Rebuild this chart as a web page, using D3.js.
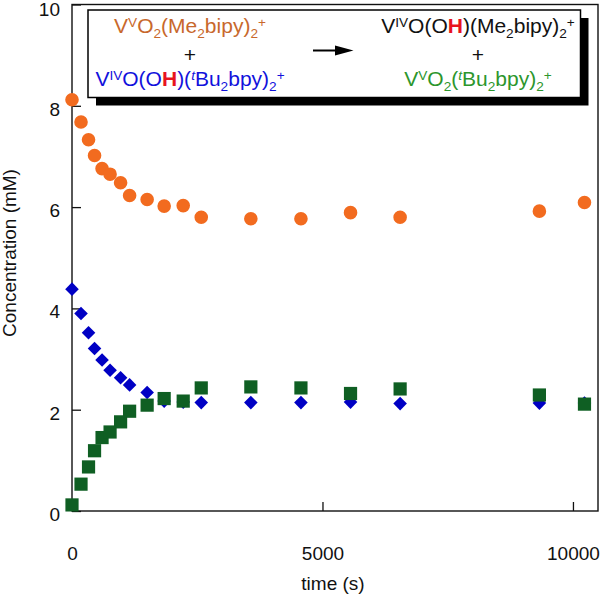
<!DOCTYPE html>
<html>
<head>
<meta charset="utf-8">
<script src="https://cdn.jsdelivr.net/npm/d3@7"></script>
<style>
  html, body { margin: 0; padding: 0; background: #fff; }
  svg { display: block; font-family: "Liberation Sans", Arial, Helvetica, sans-serif; }
</style>
</head>
<body>
<svg id="chart" width="600" height="597"></svg>
<script>
// ---- data ----
const times = [0, 180, 330, 450, 600, 760, 970, 1150, 1500, 1840, 2220, 2580, 3570, 4570, 5560, 6550, 9330, 10230];
const orangeConc = [8.12, 7.68, 7.33, 7.02, 6.76, 6.65, 6.48, 6.23, 6.15, 6.02, 6.03, 5.80, 5.77, 5.77, 5.89, 5.80, 5.92, 6.09];
const blueConc = [4.38, 3.90, 3.52, 3.21, 2.98, 2.78, 2.63, 2.49, 2.34, 2.17, 2.15, 2.14, 2.14, 2.14, 2.15, 2.12, 2.13, 2.13];
const greenConc = [0.12, 0.53, 0.87, 1.19, 1.45, 1.56, 1.76, 1.97, 2.09, 2.22, 2.17, 2.43, 2.45, 2.43, 2.32, 2.41, 2.29, 2.11];
const xTicks = [0, 5000, 10000];
const yTicks = [0, 2, 4, 6, 8, 10];
const xTitle = "time (s)";
const yTitle = "Concentration (mM)";

// ---- layout ----
const L = 72, R = 598, T = 4.5, B = 511;
const svg = d3.select("#chart");
const x = d3.scaleLinear().domain([0, 10500]).range([L, R]);
const y = d3.scaleLinear().domain([0, 10]).range([B, T]);

const FS = 19;

// axes
const xAxis = svg.append("g").attr("transform", `translate(0,${B})`)
  .call(d3.axisBottom(x).tickValues(xTicks).tickFormat(d3.format("d"))
    .tickSizeInner(-9).tickSizeOuter(0).tickPadding(35.5));
const yAxis = svg.append("g").attr("transform", `translate(${L},0)`)
  .call(d3.axisLeft(y).tickValues(yTicks).tickFormat(d3.format("d"))
    .tickSizeInner(-9).tickSizeOuter(0).tickPadding(12));
[xAxis, yAxis].forEach(a => {
  a.select(".domain").remove();
  a.selectAll("line").attr("stroke", "#111").attr("stroke-width", 1.3);
  a.selectAll("text").attr("font-size", FS).attr("fill", "#111")
    .attr("font-family", "Liberation Sans, Arial, sans-serif");
});
yAxis.selectAll("text").attr("dy", d => d === 10 ? "0.58em" : "0.5em");

// frame
svg.append("rect").attr("x", L).attr("y", T).attr("width", R - L).attr("height", B - T)
  .attr("fill", "none").attr("stroke", "#111").attr("stroke-width", 1.4);

// axis titles
svg.append("text").attr("x", 333).attr("y", 590).attr("text-anchor", "middle")
  .attr("font-size", FS).attr("fill", "#111").text(xTitle);
svg.append("text").attr("transform", "translate(16,253) rotate(-90)").attr("text-anchor", "middle")
  .attr("font-size", FS).attr("fill", "#111").text(yTitle);

// ---- data marks ----
const circ = d3.symbol().type(d3.symbolCircle).size(Math.PI * 6.8 * 6.8);
const diam = d3.symbol().type(d3.symbolSquare).size(9.6 * 9.6);
const sq = d3.symbol().type(d3.symbolSquare).size(13.2 * 13.2);

svg.append("g").selectAll("path").data(times.map((t, i) => [t, orangeConc[i]])).join("path")
  .attr("d", circ).attr("transform", d => `translate(${x(d[0])},${y(d[1])})`)
  .attr("fill", "#f26b1f");
svg.append("g").selectAll("path").data(times.map((t, i) => [t, blueConc[i]])).join("path")
  .attr("d", diam).attr("transform", d => `translate(${x(d[0])},${y(d[1])}) rotate(45)`)
  .attr("fill", "#0000c4");
svg.append("g").selectAll("path").data(times.map((t, i) => [t, greenConc[i]])).join("path")
  .attr("d", sq).attr("transform", d => `translate(${x(d[0])},${y(d[1])})`)
  .attr("fill", "#0f5f23");

// ---- legend box ----
const bx = 88, by = 10, bw = 492.5, bh = 87.5;
svg.append("rect").attr("x", bx + 8).attr("y", by + 8).attr("width", bw).attr("height", bh).attr("fill", "#000");
svg.append("rect").attr("x", bx).attr("y", by).attr("width", bw).attr("height", bh)
  .attr("fill", "#fff").attr("stroke", "#000").attr("stroke-width", 1.5);

const LFS = 21;
function richText(xc, yb, parts, color) {
  const t = svg.append("text").attr("x", xc).attr("y", yb).attr("text-anchor", "middle")
    .attr("font-size", LFS).attr("fill", color);
  let shift = 0;
  parts.forEach(p => {
    const target = p.sup ? -0.3 * LFS : p.sub ? 0.25 * LFS : 0;
    const ts = t.append("tspan").text(p.t).attr("dy", target - shift);
    if (p.sup || p.sub) ts.attr("font-size", LFS * 0.65);
    if (p.fill) ts.attr("fill", p.fill);
    if (p.bold) ts.attr("font-weight", "bold");
    if (p.italic) ts.attr("font-style", "italic");
    shift = target;
  });
}
const RED = "#e8141e";
const leftCx = 190, rightCx = 478;
richText(leftCx, 33, [{t: "V"}, {t: "V", sup: 1}, {t: "O"}, {t: "2", sub: 1}, {t: "(Me"}, {t: "2", sub: 1},
  {t: "bipy)"}, {t: "2", sub: 1}, {t: "+", sup: 1}], "#c8682c");
richText(leftCx, 61.5, [{t: "+"}], "#111");
richText(leftCx, 86, [{t: "V"}, {t: "IV", sup: 1}, {t: "O(O"}, {t: "H", fill: RED, bold: 1}, {t: ")("},
  {t: "t", sup: 1, italic: 1}, {t: "Bu"}, {t: "2", sub: 1}, {t: "bpy)"}, {t: "2", sub: 1}, {t: "+", sup: 1}], "#1212dc");
richText(rightCx, 33, [{t: "V"}, {t: "IV", sup: 1}, {t: "O(O"}, {t: "H", fill: RED, bold: 1}, {t: ")(Me"},
  {t: "2", sub: 1}, {t: "bipy)"}, {t: "2", sub: 1}, {t: "+", sup: 1}], "#111");
richText(rightCx, 61.5, [{t: "+"}], "#111");
richText(rightCx, 86, [{t: "V"}, {t: "V", sup: 1}, {t: "O"}, {t: "2", sub: 1}, {t: "("}, {t: "t", sup: 1, italic: 1},
  {t: "Bu"}, {t: "2", sub: 1}, {t: "bpy)"}, {t: "2", sub: 1}, {t: "+", sup: 1}], "#2c962c");

// arrow
svg.append("line").attr("x1", 313).attr("y1", 50.5).attr("x2", 340).attr("y2", 50.5)
  .attr("stroke", "#000").attr("stroke-width", 2);
svg.append("path").attr("d", "M335,45.5 L353.5,50.5 L335,55.5 Z").attr("fill", "#000");
</script>
</body>
</html>
